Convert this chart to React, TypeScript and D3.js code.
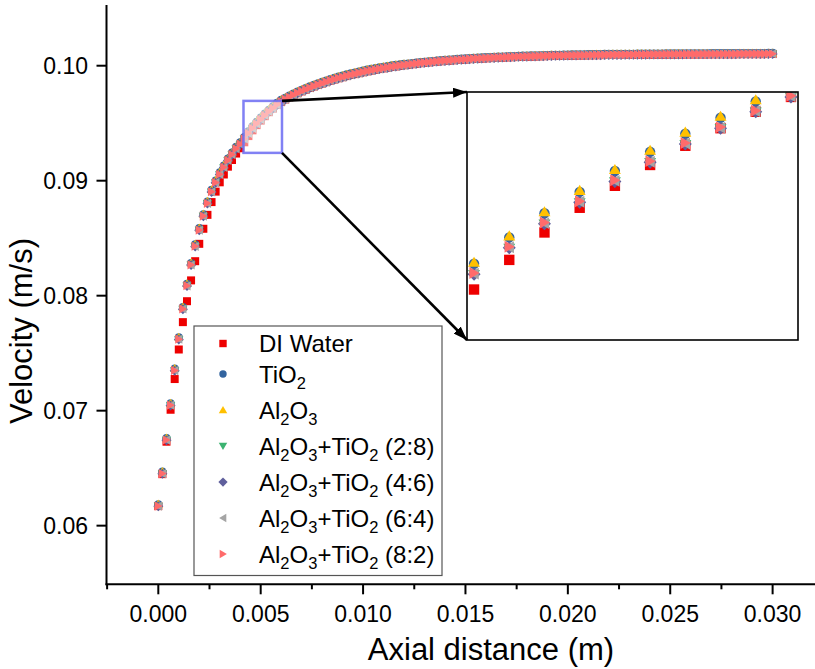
import React from 'react';
import * as d3 from 'd3';

// axial positions (m), one sample every 0.2 mm
const axialDistance = [
  0.0000, 0.0002, 0.0004, 0.0006, 0.0008, 0.0010, 0.0012, 0.0014, 0.0016, 0.0018,
  0.0020, 0.0022, 0.0024, 0.0026, 0.0028, 0.0030, 0.0032, 0.0034, 0.0036, 0.0038,
  0.0040, 0.0042, 0.0044, 0.0046, 0.0048, 0.0050, 0.0052, 0.0054, 0.0056, 0.0058,
  0.0060, 0.0062, 0.0064, 0.0066, 0.0068, 0.0070, 0.0072, 0.0074, 0.0076, 0.0078,
  0.0080, 0.0082, 0.0084, 0.0086, 0.0088, 0.0090, 0.0092, 0.0094, 0.0096, 0.0098,
  0.0100, 0.0102, 0.0104, 0.0106, 0.0108, 0.0110, 0.0112, 0.0114, 0.0116, 0.0118,
  0.0120, 0.0122, 0.0124, 0.0126, 0.0128, 0.0130, 0.0132, 0.0134, 0.0136, 0.0138,
  0.0140, 0.0142, 0.0144, 0.0146, 0.0148, 0.0150, 0.0152, 0.0154, 0.0156, 0.0158,
  0.0160, 0.0162, 0.0164, 0.0166, 0.0168, 0.0170, 0.0172, 0.0174, 0.0176, 0.0178,
  0.0180, 0.0182, 0.0184, 0.0186, 0.0188, 0.0190, 0.0192, 0.0194, 0.0196, 0.0198,
  0.0200, 0.0202, 0.0204, 0.0206, 0.0208, 0.0210, 0.0212, 0.0214, 0.0216, 0.0218,
  0.0220, 0.0222, 0.0224, 0.0226, 0.0228, 0.0230, 0.0232, 0.0234, 0.0236, 0.0238,
  0.0240, 0.0242, 0.0244, 0.0246, 0.0248, 0.0250, 0.0252, 0.0254, 0.0256, 0.0258,
  0.0260, 0.0262, 0.0264, 0.0266, 0.0268, 0.0270, 0.0272, 0.0274, 0.0276, 0.0278,
  0.0280, 0.0282, 0.0284, 0.0286, 0.0288, 0.0290, 0.0292, 0.0294, 0.0296, 0.0298,
  0.0300,
];

// velocity (m/s) per fluid
const diWater = [
  0.06170, 0.06448, 0.06730, 0.07008, 0.07275, 0.07532, 0.07770, 0.07952, 0.08133, 0.08300,
  0.08451, 0.08582, 0.08703, 0.08814, 0.08905, 0.08986, 0.09054, 0.09122, 0.09180, 0.09236,
  0.09282, 0.09334, 0.09388, 0.09438, 0.09483, 0.09523, 0.09561, 0.09596, 0.09628, 0.09658,
  0.09685, 0.09707, 0.09726, 0.09744, 0.09761, 0.09777, 0.09792, 0.09806, 0.09820, 0.09833,
  0.09845, 0.09857, 0.09870, 0.09880, 0.09891, 0.09900, 0.09910, 0.09919, 0.09927, 0.09935,
  0.09943, 0.09951, 0.09958, 0.09965, 0.09971, 0.09977, 0.09983, 0.09989, 0.09994, 0.09999,
  0.10004, 0.10008, 0.10013, 0.10017, 0.10022, 0.10025, 0.10029, 0.10032, 0.10036, 0.10039,
  0.10042, 0.10044, 0.10047, 0.10050, 0.10052, 0.10054, 0.10057, 0.10059, 0.10061, 0.10063,
  0.10065, 0.10066, 0.10068, 0.10070, 0.10071, 0.10073, 0.10074, 0.10075, 0.10077, 0.10078,
  0.10079, 0.10080, 0.10081, 0.10082, 0.10083, 0.10084, 0.10085, 0.10086, 0.10086, 0.10087,
  0.10088, 0.10089, 0.10089, 0.10090, 0.10090, 0.10091, 0.10091, 0.10092, 0.10092, 0.10093,
  0.10093, 0.10094, 0.10094, 0.10094, 0.10095, 0.10095, 0.10095, 0.10096, 0.10096, 0.10096,
  0.10097, 0.10097, 0.10097, 0.10097, 0.10098, 0.10098, 0.10098, 0.10098, 0.10098, 0.10099,
  0.10099, 0.10099, 0.10099, 0.10099, 0.10099, 0.10100, 0.10100, 0.10100, 0.10100, 0.10100,
  0.10100, 0.10100, 0.10101, 0.10101, 0.10101, 0.10101, 0.10101, 0.10101, 0.10101, 0.10102,
  0.10102,
];

const tio2 = [
  0.06187, 0.06470, 0.06762, 0.07065, 0.07367, 0.07639, 0.07902, 0.08104, 0.08285, 0.08447,
  0.08588, 0.08709, 0.08820, 0.08921, 0.09002, 0.09073, 0.09133, 0.09194, 0.09245, 0.09295,
  0.09335, 0.09381, 0.09429, 0.09473, 0.09512, 0.09550, 0.09585, 0.09618, 0.09647, 0.09677,
  0.09704, 0.09722, 0.09741, 0.09759, 0.09776, 0.09792, 0.09807, 0.09821, 0.09835, 0.09848,
  0.09860, 0.09872, 0.09885, 0.09895, 0.09906, 0.09915, 0.09925, 0.09934, 0.09942, 0.09950,
  0.09958, 0.09966, 0.09973, 0.09980, 0.09986, 0.09992, 0.09998, 0.10004, 0.10009, 0.10013,
  0.10017, 0.10020, 0.10024, 0.10027, 0.10032, 0.10035, 0.10039, 0.10042, 0.10046, 0.10049,
  0.10052, 0.10054, 0.10057, 0.10060, 0.10062, 0.10064, 0.10067, 0.10069, 0.10071, 0.10073,
  0.10075, 0.10076, 0.10078, 0.10080, 0.10081, 0.10083, 0.10084, 0.10085, 0.10087, 0.10088,
  0.10089, 0.10090, 0.10091, 0.10092, 0.10093, 0.10094, 0.10095, 0.10096, 0.10096, 0.10097,
  0.10098, 0.10099, 0.10099, 0.10100, 0.10100, 0.10101, 0.10101, 0.10102, 0.10102, 0.10103,
  0.10103, 0.10104, 0.10104, 0.10104, 0.10105, 0.10105, 0.10105, 0.10106, 0.10106, 0.10106,
  0.10107, 0.10107, 0.10107, 0.10107, 0.10108, 0.10108, 0.10108, 0.10108, 0.10108, 0.10109,
  0.10109, 0.10109, 0.10109, 0.10109, 0.10109, 0.10110, 0.10110, 0.10110, 0.10110, 0.10110,
  0.10110, 0.10110, 0.10111, 0.10111, 0.10111, 0.10111, 0.10111, 0.10111, 0.10111, 0.10112,
  0.10112,
];

const al2o3 = [
  0.06190, 0.06473, 0.06765, 0.07068, 0.07370, 0.07642, 0.07905, 0.08107, 0.08288, 0.08450,
  0.08591, 0.08712, 0.08823, 0.08924, 0.09005, 0.09076, 0.09136, 0.09197, 0.09248, 0.09298,
  0.09338, 0.09384, 0.09432, 0.09476, 0.09515, 0.09553, 0.09588, 0.09621, 0.09650, 0.09680,
  0.09707, 0.09725, 0.09744, 0.09762, 0.09779, 0.09795, 0.09810, 0.09824, 0.09838, 0.09851,
  0.09863, 0.09875, 0.09888, 0.09898, 0.09909, 0.09918, 0.09928, 0.09937, 0.09945, 0.09953,
  0.09961, 0.09969, 0.09976, 0.09983, 0.09989, 0.09995, 0.10001, 0.10007, 0.10012, 0.10016,
  0.10019, 0.10021, 0.10025, 0.10029, 0.10034, 0.10037, 0.10041, 0.10044, 0.10048, 0.10051,
  0.10054, 0.10056, 0.10059, 0.10062, 0.10064, 0.10066, 0.10069, 0.10071, 0.10073, 0.10075,
  0.10077, 0.10078, 0.10080, 0.10082, 0.10083, 0.10085, 0.10086, 0.10087, 0.10089, 0.10090,
  0.10091, 0.10092, 0.10093, 0.10094, 0.10095, 0.10096, 0.10097, 0.10098, 0.10098, 0.10099,
  0.10100, 0.10101, 0.10101, 0.10102, 0.10102, 0.10103, 0.10103, 0.10104, 0.10104, 0.10105,
  0.10105, 0.10106, 0.10106, 0.10106, 0.10107, 0.10107, 0.10107, 0.10108, 0.10108, 0.10108,
  0.10109, 0.10109, 0.10109, 0.10109, 0.10110, 0.10110, 0.10110, 0.10110, 0.10110, 0.10111,
  0.10111, 0.10111, 0.10111, 0.10111, 0.10111, 0.10112, 0.10112, 0.10112, 0.10112, 0.10112,
  0.10112, 0.10112, 0.10113, 0.10113, 0.10113, 0.10113, 0.10113, 0.10113, 0.10113, 0.10114,
  0.10114,
];

const hybrid28 = [
  0.06167, 0.06450, 0.06742, 0.07045, 0.07347, 0.07619, 0.07882, 0.08084, 0.08265, 0.08427,
  0.08568, 0.08689, 0.08800, 0.08901, 0.08982, 0.09053, 0.09113, 0.09174, 0.09225, 0.09275,
  0.09315, 0.09361, 0.09409, 0.09453, 0.09492, 0.09530, 0.09565, 0.09598, 0.09627, 0.09657,
  0.09684, 0.09706, 0.09725, 0.09743, 0.09760, 0.09776, 0.09791, 0.09805, 0.09819, 0.09832,
  0.09844, 0.09856, 0.09869, 0.09879, 0.09890, 0.09899, 0.09909, 0.09918, 0.09926, 0.09934,
  0.09942, 0.09950, 0.09957, 0.09964, 0.09970, 0.09976, 0.09982, 0.09988, 0.09993, 0.09998,
  0.10003, 0.10007, 0.10012, 0.10016, 0.10021, 0.10024, 0.10028, 0.10031, 0.10035, 0.10038,
  0.10041, 0.10043, 0.10046, 0.10049, 0.10051, 0.10053, 0.10056, 0.10058, 0.10060, 0.10062,
  0.10064, 0.10065, 0.10067, 0.10069, 0.10070, 0.10072, 0.10073, 0.10074, 0.10076, 0.10077,
  0.10078, 0.10079, 0.10080, 0.10081, 0.10082, 0.10083, 0.10084, 0.10085, 0.10085, 0.10086,
  0.10087, 0.10088, 0.10088, 0.10089, 0.10089, 0.10090, 0.10090, 0.10091, 0.10091, 0.10092,
  0.10092, 0.10093, 0.10093, 0.10093, 0.10094, 0.10094, 0.10094, 0.10095, 0.10095, 0.10095,
  0.10096, 0.10096, 0.10096, 0.10096, 0.10097, 0.10097, 0.10097, 0.10097, 0.10097, 0.10098,
  0.10098, 0.10098, 0.10098, 0.10098, 0.10098, 0.10099, 0.10099, 0.10099, 0.10099, 0.10099,
  0.10099, 0.10099, 0.10100, 0.10100, 0.10100, 0.10100, 0.10100, 0.10100, 0.10100, 0.10101,
  0.10101,
];

const hybrid46 = [
  0.06168, 0.06451, 0.06743, 0.07046, 0.07348, 0.07620, 0.07883, 0.08085, 0.08266, 0.08428,
  0.08569, 0.08690, 0.08801, 0.08902, 0.08983, 0.09054, 0.09114, 0.09175, 0.09226, 0.09276,
  0.09316, 0.09362, 0.09410, 0.09454, 0.09493, 0.09531, 0.09566, 0.09599, 0.09628, 0.09658,
  0.09685, 0.09707, 0.09726, 0.09744, 0.09761, 0.09777, 0.09792, 0.09806, 0.09820, 0.09833,
  0.09845, 0.09857, 0.09870, 0.09880, 0.09891, 0.09900, 0.09910, 0.09919, 0.09927, 0.09935,
  0.09943, 0.09951, 0.09958, 0.09965, 0.09971, 0.09977, 0.09983, 0.09989, 0.09994, 0.09999,
  0.10004, 0.10008, 0.10013, 0.10017, 0.10022, 0.10025, 0.10029, 0.10032, 0.10036, 0.10039,
  0.10042, 0.10044, 0.10047, 0.10050, 0.10052, 0.10054, 0.10057, 0.10059, 0.10061, 0.10063,
  0.10065, 0.10066, 0.10068, 0.10070, 0.10071, 0.10073, 0.10074, 0.10075, 0.10077, 0.10078,
  0.10079, 0.10080, 0.10081, 0.10082, 0.10083, 0.10084, 0.10085, 0.10086, 0.10086, 0.10087,
  0.10088, 0.10089, 0.10089, 0.10090, 0.10090, 0.10091, 0.10091, 0.10092, 0.10092, 0.10093,
  0.10093, 0.10094, 0.10094, 0.10094, 0.10095, 0.10095, 0.10095, 0.10096, 0.10096, 0.10096,
  0.10097, 0.10097, 0.10097, 0.10097, 0.10098, 0.10098, 0.10098, 0.10098, 0.10098, 0.10099,
  0.10099, 0.10099, 0.10099, 0.10099, 0.10099, 0.10100, 0.10100, 0.10100, 0.10100, 0.10100,
  0.10100, 0.10100, 0.10101, 0.10101, 0.10101, 0.10101, 0.10101, 0.10101, 0.10101, 0.10102,
  0.10102,
];

const hybrid64 = [
  0.06169, 0.06452, 0.06744, 0.07047, 0.07349, 0.07621, 0.07884, 0.08086, 0.08267, 0.08429,
  0.08570, 0.08691, 0.08802, 0.08903, 0.08984, 0.09055, 0.09115, 0.09176, 0.09227, 0.09277,
  0.09317, 0.09363, 0.09411, 0.09455, 0.09494, 0.09532, 0.09567, 0.09600, 0.09629, 0.09659,
  0.09686, 0.09708, 0.09727, 0.09745, 0.09762, 0.09778, 0.09793, 0.09807, 0.09821, 0.09834,
  0.09846, 0.09858, 0.09871, 0.09881, 0.09892, 0.09901, 0.09911, 0.09920, 0.09928, 0.09936,
  0.09944, 0.09952, 0.09959, 0.09966, 0.09972, 0.09978, 0.09984, 0.09990, 0.09995, 0.10000,
  0.10005, 0.10009, 0.10014, 0.10018, 0.10023, 0.10026, 0.10030, 0.10033, 0.10037, 0.10040,
  0.10043, 0.10045, 0.10048, 0.10051, 0.10053, 0.10055, 0.10058, 0.10060, 0.10062, 0.10064,
  0.10066, 0.10067, 0.10069, 0.10071, 0.10072, 0.10074, 0.10075, 0.10076, 0.10078, 0.10079,
  0.10080, 0.10081, 0.10082, 0.10083, 0.10084, 0.10085, 0.10086, 0.10087, 0.10087, 0.10088,
  0.10089, 0.10090, 0.10090, 0.10091, 0.10091, 0.10092, 0.10092, 0.10093, 0.10093, 0.10094,
  0.10094, 0.10095, 0.10095, 0.10095, 0.10096, 0.10096, 0.10096, 0.10097, 0.10097, 0.10097,
  0.10098, 0.10098, 0.10098, 0.10098, 0.10099, 0.10099, 0.10099, 0.10099, 0.10099, 0.10100,
  0.10100, 0.10100, 0.10100, 0.10100, 0.10100, 0.10101, 0.10101, 0.10101, 0.10101, 0.10101,
  0.10101, 0.10101, 0.10102, 0.10102, 0.10102, 0.10102, 0.10102, 0.10102, 0.10102, 0.10103,
  0.10103,
];

const hybrid82 = [
  0.06170, 0.06453, 0.06745, 0.07048, 0.07350, 0.07622, 0.07885, 0.08087, 0.08268, 0.08430,
  0.08571, 0.08692, 0.08803, 0.08904, 0.08985, 0.09056, 0.09116, 0.09177, 0.09228, 0.09278,
  0.09318, 0.09364, 0.09412, 0.09456, 0.09495, 0.09533, 0.09568, 0.09601, 0.09630, 0.09660,
  0.09687, 0.09709, 0.09728, 0.09746, 0.09763, 0.09779, 0.09794, 0.09808, 0.09822, 0.09835,
  0.09847, 0.09859, 0.09872, 0.09882, 0.09893, 0.09902, 0.09912, 0.09921, 0.09929, 0.09937,
  0.09945, 0.09953, 0.09960, 0.09967, 0.09973, 0.09979, 0.09985, 0.09991, 0.09996, 0.10001,
  0.10006, 0.10010, 0.10015, 0.10019, 0.10024, 0.10027, 0.10031, 0.10034, 0.10038, 0.10041,
  0.10044, 0.10046, 0.10049, 0.10052, 0.10054, 0.10056, 0.10059, 0.10061, 0.10063, 0.10065,
  0.10067, 0.10068, 0.10070, 0.10072, 0.10073, 0.10075, 0.10076, 0.10077, 0.10079, 0.10080,
  0.10081, 0.10082, 0.10083, 0.10084, 0.10085, 0.10086, 0.10087, 0.10088, 0.10088, 0.10089,
  0.10090, 0.10091, 0.10091, 0.10092, 0.10092, 0.10093, 0.10093, 0.10094, 0.10094, 0.10095,
  0.10095, 0.10096, 0.10096, 0.10096, 0.10097, 0.10097, 0.10097, 0.10098, 0.10098, 0.10098,
  0.10099, 0.10099, 0.10099, 0.10099, 0.10100, 0.10100, 0.10100, 0.10100, 0.10100, 0.10101,
  0.10101, 0.10101, 0.10101, 0.10101, 0.10101, 0.10102, 0.10102, 0.10102, 0.10102, 0.10102,
  0.10102, 0.10102, 0.10103, 0.10103, 0.10103, 0.10103, 0.10103, 0.10103, 0.10103, 0.10104,
  0.10104,
];

const xTicks = [0, 0.005, 0.010, 0.015, 0.020, 0.025, 0.030];
const xMinorTicks = [-0.0025, 0.0025, 0.0075, 0.0125, 0.0175, 0.0225, 0.0275];
const yTicks = [0.06, 0.07, 0.08, 0.09, 0.10];

// zoomed window shown in the inset
const zoomX = [0.00416, 0.00604];
const zoomY = [0.09242, 0.09694];

type Part = [string, boolean]; // text, subscript?

const series = [
  { label: [['DI Water', false]] as Part[], color: '#ee0000', shape: 'square', values: diWater },
  { label: [['TiO', false], ['2', true]] as Part[], color: '#33649f', shape: 'circle', values: tio2 },
  { label: [['Al', false], ['2', true], ['O', false], ['3', true]] as Part[], color: '#ffc000', shape: 'up', values: al2o3 },
  { label: [['Al', false], ['2', true], ['O', false], ['3', true], ['+TiO', false], ['2', true], [' (2:8)', false]] as Part[], color: '#3cb371', shape: 'down', values: hybrid28 },
  { label: [['Al', false], ['2', true], ['O', false], ['3', true], ['+TiO', false], ['2', true], [' (4:6)', false]] as Part[], color: '#5f5f9c', shape: 'diamond', values: hybrid46 },
  { label: [['Al', false], ['2', true], ['O', false], ['3', true], ['+TiO', false], ['2', true], [' (6:4)', false]] as Part[], color: '#a5a5a5', shape: 'left', values: hybrid64 },
  { label: [['Al', false], ['2', true], ['O', false], ['3', true], ['+TiO', false], ['2', true], [' (8:2)', false]] as Part[], color: '#ff6b6b', shape: 'right', values: hybrid82 },
];

const FONT = 'Liberation Sans, Arial, Helvetica, sans-serif';

function markerPath(shape: string, r: number): string {
  switch (shape) {
    case 'square':
      return `M${-r},${-r}h${2 * r}v${2 * r}h${-2 * r}Z`;
    case 'circle':
      return `M${-r},0a${r},${r} 0 1,0 ${2 * r},0a${r},${r} 0 1,0 ${-2 * r},0Z`;
    case 'up':
      return `M0,${-r * 1.05}L${r * 1.15},${r * 0.9}L${-r * 1.15},${r * 0.9}Z`;
    case 'down':
      return `M0,${r * 1.05}L${r * 1.15},${-r * 0.9}L${-r * 1.15},${-r * 0.9}Z`;
    case 'diamond':
      return `M0,${-r * 1.25}L${r * 1.25},0L0,${r * 1.25}L${-r * 1.25},0Z`;
    case 'left':
      return `M${-r * 1.05},0L${r * 0.9},${-r * 1.15}L${r * 0.9},${r * 1.15}Z`;
    default:
      return `M${r * 1.05},0L${-r * 0.9},${-r * 1.15}L${-r * 0.9},${r * 1.15}Z`;
  }
}

const Label = ({ parts, x, y }: { parts: Part[]; x: number; y: number }) => {
  let shift = 0;
  return (
    <text x={x} y={y} fontFamily={FONT} fontSize={24} fill="#000" style={{ whiteSpace: 'pre' }}>
      {parts.map(([t, sub], i) => {
        const dy = (sub ? 6 : 0) - shift;
        shift = sub ? 6 : 0;
        return (
          <tspan key={i} dy={dy} fontSize={sub ? 16.5 : 24}>
            {t}
          </tspan>
        );
      })}
    </text>
  );
};

export default function App() {
  const width = 815;
  const height = 669;
  const plot = { left: 106.5, right: 815, top: 5, bottom: 584.3 };

  const x = d3.scaleLinear().domain([-0.00253, 0.03207]).range([plot.left, plot.right]);
  const y = d3.scaleLinear().domain([0.0549, 0.10528]).range([plot.bottom, plot.top]);

  const inset = { x: 467, y: 92, w: 331, h: 248 };
  const ix = d3.scaleLinear().domain(zoomX).range([inset.x, inset.x + inset.w]);
  const iy = d3.scaleLinear().domain(zoomY).range([inset.y + inset.h, inset.y]);

  const box = {
    x0: x(zoomX[0]),
    x1: x(zoomX[1]),
    y0: y(zoomY[1]),
    y1: y(zoomY[0]),
  };

  const fmtX = d3.format('.3f');
  const fmtY = d3.format('.2f');

  const legend = { x: 194, y: 326, w: 248, h: 249.5 };
  const rowBaseline = (i: number) => 352 + 30.5 * Math.min(i, 1) + 36 * Math.max(i - 1, 0);

  return (
    <svg
      width={width}
      height={height}
      style={{ position: 'absolute', left: 0, top: 0, background: '#fff' }}
    >
      <defs>
        <clipPath id="insetClip">
          <rect x={inset.x} y={inset.y} width={inset.w} height={inset.h} />
        </clipPath>
        <marker
          id="arrowHead"
          viewBox="0 0 14 10"
          refX={14}
          refY={5}
          markerWidth={14}
          markerHeight={10}
          markerUnits="userSpaceOnUse"
          orient="auto"
        >
          <path d="M0,0L14,5L0,10Z" fill="#000" />
        </marker>
      </defs>
      <rect width={width} height={height} fill="#fff" />

      {/* main scatter */}
      {series.map((s, si) => (
        <g key={si} fill={s.color}>
          {s.values.map((v, i) => (
            <path
              key={i}
              d={markerPath(s.shape, 4.0)}
              transform={`translate(${x(axialDistance[i])},${y(v)})`}
            />
          ))}
        </g>
      ))}

      {/* zoom window on the curve */}
      <rect
        x={box.x0}
        y={box.y0}
        width={box.x1 - box.x0}
        height={box.y1 - box.y0}
        fill="#fff"
        fillOpacity={0.5}
        stroke="#6b6bf2"
        strokeOpacity={0.85}
        strokeWidth={2.5}
      />

      {/* axes */}
      <g stroke="#000" strokeWidth={2} fill="none">
        <line x1={plot.left} x2={plot.left} y1={plot.top} y2={plot.bottom + 1} />
        <line x1={plot.left - 1} x2={plot.right} y1={plot.bottom} y2={plot.bottom} />
        {yTicks.map((t) => (
          <line key={t} x1={plot.left - 10} x2={plot.left} y1={y(t)} y2={y(t)} />
        ))}
        {xTicks.map((t) => (
          <line key={t} x1={x(t)} x2={x(t)} y1={plot.bottom} y2={plot.bottom + 10} />
        ))}
        {xMinorTicks.map((t) => (
          <line key={t} x1={x(t)} x2={x(t)} y1={plot.bottom} y2={plot.bottom + 5} />
        ))}
      </g>
      <g fontFamily={FONT} fontSize={23} fill="#000">
        {yTicks.map((t) => (
          <text key={t} x={88} y={y(t)} textAnchor="end" dominantBaseline="central">
            {fmtY(t)}
          </text>
        ))}
        {xTicks.map((t) => (
          <text key={t} x={x(t)} y={622} textAnchor="middle">
            {fmtX(t)}
          </text>
        ))}
      </g>
      <text x={491} y={660} textAnchor="middle" fontFamily={FONT} fontSize={31}>
        Axial distance (m)
      </text>
      <text
        transform="translate(32,331) rotate(-90)"
        textAnchor="middle"
        fontFamily={FONT}
        fontSize={31}
      >
        Velocity (m/s)
      </text>

      {/* legend */}
      <rect
        x={legend.x}
        y={legend.y}
        width={legend.w}
        height={legend.h}
        fill="#fff"
        stroke="#555"
        strokeWidth={1.2}
      />
      {series.map((s, i) => (
        <g key={i}>
          <path
            d={markerPath(s.shape, 3.7)}
            fill={s.color}
            transform={`translate(223,${rowBaseline(i) - 8.5})`}
          />
          <Label parts={s.label} x={259} y={rowBaseline(i)} />
        </g>
      ))}

      {/* inset */}
      <rect x={inset.x} y={inset.y} width={inset.w} height={inset.h} fill="#fff" />
      <g clipPath="url(#insetClip)">
        {series.map((s, si) => (
          <g key={si} fill={s.color}>
            {s.values.map((v, i) => (
              <path
                key={i}
                d={markerPath(s.shape, 5.2)}
                transform={`translate(${ix(axialDistance[i])},${iy(v)})`}
              />
            ))}
          </g>
        ))}
      </g>
      <rect
        x={inset.x}
        y={inset.y}
        width={inset.w}
        height={inset.h}
        fill="none"
        stroke="#000"
        strokeWidth={1.6}
      />

      {/* arrows from zoom window to inset */}
      <g stroke="#000" strokeWidth={2.6} fill="none">
        <line x1={box.x1} y1={box.y0} x2={inset.x} y2={inset.y} markerEnd="url(#arrowHead)" />
        <line
          x1={box.x1}
          y1={box.y1}
          x2={inset.x}
          y2={inset.y + inset.h}
          markerEnd="url(#arrowHead)"
        />
      </g>
    </svg>
  );
}
